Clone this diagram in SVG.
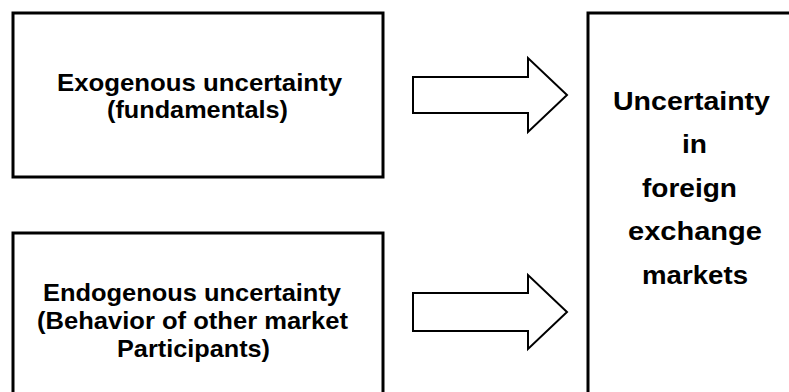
<svg xmlns="http://www.w3.org/2000/svg" width="789" height="392" viewBox="0 0 789 392">
<style>
.box{fill:#fff;stroke:#000;stroke-width:3}
.arrow{fill:#fff;stroke:#000;stroke-width:2;stroke-linejoin:miter}
.t{font-family:"Liberation Sans",Arial,sans-serif;font-weight:bold;fill:#000}
.s24{font-size:24px}
.s26{font-size:26px}
</style>
<rect width="789" height="392" fill="#fff"/>
<g id="exogenous">
<rect class="box" x="13" y="13" width="370" height="164"/>
<text class="t s24" x="57" y="91" textLength="285" lengthAdjust="spacingAndGlyphs">Exogenous uncertainty</text>
<text class="t s24" x="107" y="118" textLength="181" lengthAdjust="spacingAndGlyphs">(fundamentals)</text>
</g>
<g id="endogenous">
<rect class="box" x="13" y="233" width="370" height="200"/>
<text class="t s24" x="43" y="301" textLength="298" lengthAdjust="spacingAndGlyphs">Endogenous uncertainty</text>
<text class="t s24" x="37" y="329" textLength="311" lengthAdjust="spacingAndGlyphs">(Behavior of other market</text>
<text class="t s24" x="117" y="357" textLength="153" lengthAdjust="spacingAndGlyphs">Participants)</text>
</g>
<g id="fx-uncertainty">
<rect class="box" x="588" y="13" width="230" height="420"/>
<text class="t s26" x="613" y="110" textLength="157" lengthAdjust="spacingAndGlyphs">Uncertainty</text>
<text class="t s26" x="682" y="153" textLength="25" lengthAdjust="spacingAndGlyphs">in</text>
<text class="t s26" x="642" y="197" textLength="95" lengthAdjust="spacingAndGlyphs">foreign</text>
<text class="t s26" x="628" y="240" textLength="134" lengthAdjust="spacingAndGlyphs">exchange</text>
<text class="t s26" x="642" y="284" textLength="106" lengthAdjust="spacingAndGlyphs">markets</text>
</g>
<g id="connectors">
<polygon class="arrow" points="413,77 528,77 528,58 567,95 528,132 528,113 413,113"/>
<polygon class="arrow" points="413,293 528,293 528,275 567,312 528,349 528,331 413,331"/>
</g>
</svg>
